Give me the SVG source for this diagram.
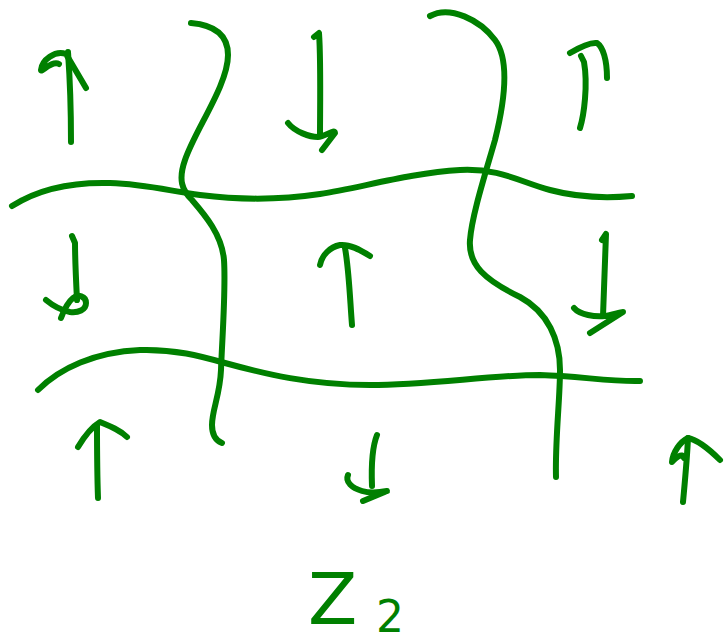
<svg xmlns="http://www.w3.org/2000/svg" width="725" height="644" viewBox="0 0 725 644">
  <style>
    .ink { fill: none; stroke: #008000; stroke-width: 6; stroke-linecap: round; stroke-linejoin: round; }
    .label { fill: #008000; font-family: "DejaVu Sans", "Noto Sans", sans-serif; }
  </style>
  <rect width="725" height="644" fill="#ffffff"/>

  <!-- wavy grid lines -->
  <g id="connectors">
    <path class="ink" d="M12,206 C40,188 75,182 110,183 C145,184 170,191 200,195 C240,200 280,200 320,194 C360,188 410,173 460,170 C500,168 520,182 550,190 C580,198 610,198 632,196"/>
    <path class="ink" d="M38,390 C60,368 95,352 140,350 C175,349 200,356 225,363 C265,374 310,385 370,385 C430,385 490,375 540,375 C580,376 610,382 640,381"/>
    <path class="ink" d="M191,23 C215,25 228,35 228,55 C228,85 195,130 185,160 C178,180 182,190 192,200 C205,215 222,235 224,260 C226,290 222,340 221,370 C220,395 212,410 212,425 C212,437 217,441 222,443"/>
    <path class="ink" d="M430,16 C450,5 480,20 495,40 C510,60 505,100 495,140 C485,175 472,215 470,240 C468,265 485,280 520,297 C548,312 560,340 560,370 C560,400 555,440 556,477"/>
  </g>

  <!-- top row arrows -->
  <g id="arrow-r1c1">
    <path class="ink" d="M71,142 C71,110 70,80 68,52"/>
    <path class="ink" d="M59,64 C52,60 41,73 41,70 C42,60 55,50 66,54 L86,88"/>
  </g>
  <g id="arrow-r1c2">
    <path class="ink" d="M314,37 L319,33 C321,60 320,110 320,135"/>
    <path class="ink" d="M288,123 C295,132 310,137 318,137 C325,137 335,128 335,133 L322,150"/>
  </g>
  <g id="arrow-r1c3">
    <path class="ink" d="M580,128 C584,115 588,85 584,62 L581,56"/>
    <path class="ink" d="M570,53 C580,47 590,42 597,43 C603,47 607,60 607,78"/>
  </g>

  <!-- middle row arrows -->
  <g id="arrow-r2c1">
    <path class="ink" d="M72,236 L75,243 C75,260 76,280 77,300"/>
    <path class="ink" d="M46,300 C52,305 60,310 70,312 C78,313 86,310 86,303 C86,296 78,294 73,298 C68,302 64,310 61,318"/>
  </g>
  <g id="arrow-r2c2">
    <path class="ink" d="M352,325 C350,300 349,270 345,248"/>
    <path class="ink" d="M320,265 C322,255 330,247 340,245 C350,244 360,250 370,256"/>
  </g>
  <g id="arrow-r2c3">
    <path class="ink" d="M602,240 L606,234 C605,260 604,290 603,316"/>
    <path class="ink" d="M574,308 C580,315 595,317 605,316 C612,315 620,312 623,312 L590,333"/>
  </g>

  <!-- bottom row arrows -->
  <g id="arrow-r3c1">
    <path class="ink" d="M98,498 C97,470 97,445 97,425"/>
    <path class="ink" d="M78,447 C84,437 90,428 100,422 C110,426 120,430 127,437"/>
  </g>
  <g id="arrow-r3c2">
    <path class="ink" d="M377,435 C373,445 371,460 372,486"/>
    <path class="ink" d="M348,475 C345,482 352,488 362,491 C372,494 382,492 387,491 L363,501"/>
  </g>
  <g id="arrow-r3c3">
    <path class="ink" d="M683,502 C685,480 687,460 688,438"/>
    <path class="ink" d="M720,460 C710,450 698,440 688,438 C680,442 673,452 672,462 C676,458 682,452 684,458"/>
  </g>

  <!-- group label -->
  <g id="label">
    <text class="label" x="308" y="624" font-size="72">Z</text>
    <text class="label" x="376" y="632" font-size="44">2</text>
  </g>
</svg>
